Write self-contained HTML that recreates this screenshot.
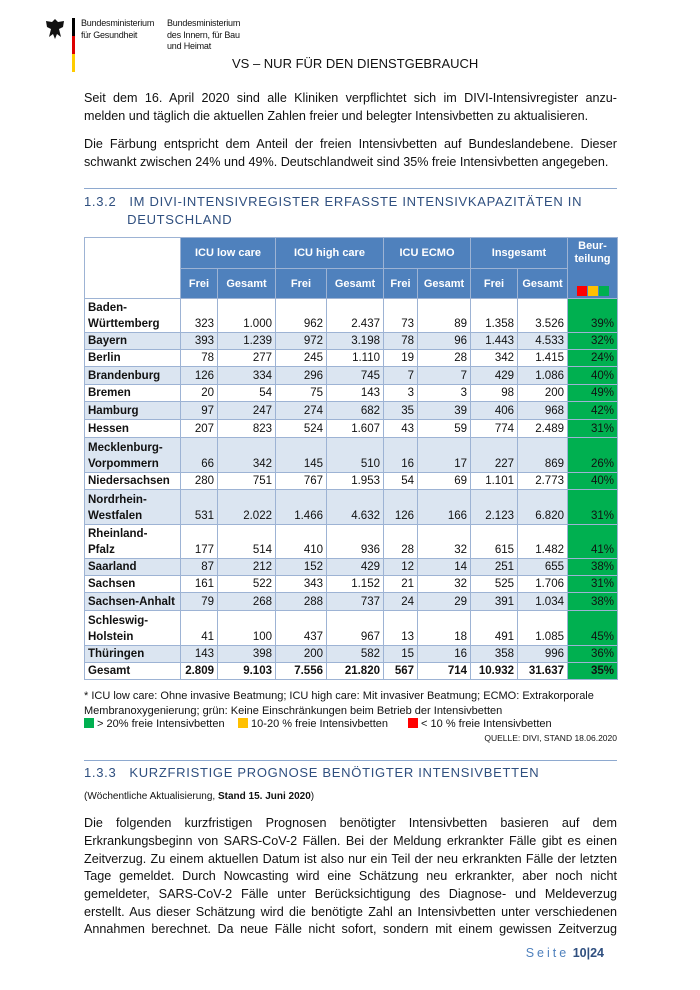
<!DOCTYPE html>
<html><head><meta charset="utf-8"><style>
*{margin:0;padding:0;box-sizing:border-box}
body{width:700px;height:990px;background:#fff;position:relative;font-family:"Liberation Sans",sans-serif;color:#111;overflow:hidden}
.a{position:absolute}
.ln{position:absolute;left:84px;width:533px;font-size:12.6px;white-space:nowrap;text-align:justify;text-align-last:justify}
.ln.l{text-align-last:left}
h2{position:absolute;left:84px;font-weight:normal;color:#2f4f7f;font-size:13px;letter-spacing:0.7px;white-space:nowrap}
table{position:absolute;left:84px;top:237px;border-collapse:collapse;font-size:11.5px;table-layout:fixed}
td{border:1px solid #9db3d4;padding:0 3px;vertical-align:bottom;text-align:right;line-height:16px}
th{background:#4f81bd;color:#fff;border:1px solid #9db3d4;font-weight:bold;font-size:11px}
td.n{text-align:left;font-weight:bold}
tr.s td{background:#dbe5f1}
td.g{background:#00b050!important}
</style></head><body>
<svg class="a" style="left:44px;top:17px" width="22" height="24" viewBox="0 0 22 24"><path d="M11 2 L14 5 L20 4 L19 10 L15 12 L17 20 L13 17 L11 22 L9 17 L5 20 L7 12 L3 10 L2 4 L8 5Z" fill="#111"/></svg>
<div class="a" style="left:72px;top:18px;width:3px;height:18px;background:#000"></div>
<div class="a" style="left:72px;top:36px;width:3px;height:18px;background:#dd0000"></div>
<div class="a" style="left:72px;top:54px;width:3px;height:18px;background:#ffcc00"></div>
<div class="a" style="left:81px;top:18px;font-size:9px;line-height:11.5px;letter-spacing:-0.2px">Bundesministerium<br>für Gesundheit</div>
<div class="a" style="left:167px;top:18px;font-size:9px;line-height:11.5px;letter-spacing:-0.2px">Bundesministerium<br>des Innern, für Bau<br>und Heimat</div>
<div class="a" style="left:232px;top:56px;font-size:13px">VS – NUR FÜR DEN DIENSTGEBRAUCH</div>
<div class="ln" style="top:91px">Seit dem 16. April 2020 sind alle Kliniken verpflichtet sich im DIVI-Intensivregister anzu-</div>
<div class="ln l" style="top:109px">melden und täglich die aktuellen Zahlen freier und belegter Intensivbetten zu aktualisieren.</div>
<div class="ln" style="top:137px">Die Färbung entspricht dem Anteil der freien Intensivbetten auf Bundeslandebene. Dieser</div>
<div class="ln l" style="top:155px">schwankt zwischen 24% und 49%. Deutschlandweit sind 35% freie Intensivbetten angegeben.</div>
<div class="a" style="left:84px;top:188px;width:533px;height:1px;background:#8ea9cf"></div>
<h2 style="top:193px;line-height:18px">1.3.2&nbsp;&nbsp;&nbsp;IM DIVI-INTENSIVREGISTER ERFASSTE INTENSIVKAPAZITÄTEN IN<br>&nbsp;&nbsp;&nbsp;&nbsp;&nbsp;&nbsp;&nbsp;&nbsp;&nbsp;&nbsp;DEUTSCHLAND</h2>
<table>
<colgroup><col style="width:96px"><col style="width:37px"><col style="width:58px"><col style="width:51px"><col style="width:57px"><col style="width:34px"><col style="width:53px"><col style="width:47px"><col style="width:50px"><col style="width:50px"></colgroup>
<tr style="height:31px"><td rowspan="2" style="background:#fff"></td><th colspan="2">ICU low care</th><th colspan="2">ICU high care</th><th colspan="2">ICU ECMO</th><th colspan="2">Insgesamt</th><th rowspan="2" style="vertical-align:top;padding-top:2px;line-height:13px">Beur-<br>teilung<div style="margin-top:20px;display:flex;gap:1px;justify-content:center"><span style="width:10px;height:10px;background:#f00"></span><span style="width:10px;height:10px;background:#ffc000"></span><span style="width:10px;height:10px;background:#00b050"></span></div></th></tr>
<tr style="height:30px"><th>Frei</th><th>Gesamt</th><th>Frei</th><th>Gesamt</th><th>Frei</th><th>Gesamt</th><th>Frei</th><th>Gesamt</th></tr>
<tr style="height:34px"><td class="n">Baden-<br>Württemberg</td><td>323</td><td>1.000</td><td>962</td><td>2.437</td><td>73</td><td>89</td><td>1.358</td><td>3.526</td><td class="g">39%</td></tr>
<tr class="s" style="height:17px"><td class="n">Bayern</td><td>393</td><td>1.239</td><td>972</td><td>3.198</td><td>78</td><td>96</td><td>1.443</td><td>4.533</td><td class="g">32%</td></tr>
<tr style="height:17px"><td class="n">Berlin</td><td>78</td><td>277</td><td>245</td><td>1.110</td><td>19</td><td>28</td><td>342</td><td>1.415</td><td class="g">24%</td></tr>
<tr class="s" style="height:18px"><td class="n">Brandenburg</td><td>126</td><td>334</td><td>296</td><td>745</td><td>7</td><td>7</td><td>429</td><td>1.086</td><td class="g">40%</td></tr>
<tr style="height:17px"><td class="n">Bremen</td><td>20</td><td>54</td><td>75</td><td>143</td><td>3</td><td>3</td><td>98</td><td>200</td><td class="g">49%</td></tr>
<tr class="s" style="height:18px"><td class="n">Hamburg</td><td>97</td><td>247</td><td>274</td><td>682</td><td>35</td><td>39</td><td>406</td><td>968</td><td class="g">42%</td></tr>
<tr style="height:18px"><td class="n">Hessen</td><td>207</td><td>823</td><td>524</td><td>1.607</td><td>43</td><td>59</td><td>774</td><td>2.489</td><td class="g">31%</td></tr>
<tr class="s" style="height:35px"><td class="n">Mecklenburg-<br>Vorpommern</td><td>66</td><td>342</td><td>145</td><td>510</td><td>16</td><td>17</td><td>227</td><td>869</td><td class="g">26%</td></tr>
<tr style="height:17px"><td class="n">Niedersachsen</td><td>280</td><td>751</td><td>767</td><td>1.953</td><td>54</td><td>69</td><td>1.101</td><td>2.773</td><td class="g">40%</td></tr>
<tr class="s" style="height:35px"><td class="n">Nordrhein-<br>Westfalen</td><td>531</td><td>2.022</td><td>1.466</td><td>4.632</td><td>126</td><td>166</td><td>2.123</td><td>6.820</td><td class="g">31%</td></tr>
<tr style="height:34px"><td class="n">Rheinland-<br>Pfalz</td><td>177</td><td>514</td><td>410</td><td>936</td><td>28</td><td>32</td><td>615</td><td>1.482</td><td class="g">41%</td></tr>
<tr class="s" style="height:17px"><td class="n">Saarland</td><td>87</td><td>212</td><td>152</td><td>429</td><td>12</td><td>14</td><td>251</td><td>655</td><td class="g">38%</td></tr>
<tr style="height:17px"><td class="n">Sachsen</td><td>161</td><td>522</td><td>343</td><td>1.152</td><td>21</td><td>32</td><td>525</td><td>1.706</td><td class="g">31%</td></tr>
<tr class="s" style="height:18px"><td class="n">Sachsen-Anhalt</td><td>79</td><td>268</td><td>288</td><td>737</td><td>24</td><td>29</td><td>391</td><td>1.034</td><td class="g">38%</td></tr>
<tr style="height:35px"><td class="n">Schleswig-<br>Holstein</td><td>41</td><td>100</td><td>437</td><td>967</td><td>13</td><td>18</td><td>491</td><td>1.085</td><td class="g">45%</td></tr>
<tr class="s" style="height:17px"><td class="n">Thüringen</td><td>143</td><td>398</td><td>200</td><td>582</td><td>15</td><td>16</td><td>358</td><td>996</td><td class="g">36%</td></tr>
<tr style="height:17px;font-weight:bold"><td class="n">Gesamt</td><td>2.809</td><td>9.103</td><td>7.556</td><td>21.820</td><td>567</td><td>714</td><td>10.932</td><td>31.637</td><td class="g">35%</td></tr>
</table>
<div class="a" style="left:84px;top:689px;font-size:11px;line-height:15px;white-space:nowrap">* ICU low care: Ohne invasive Beatmung; ICU high care: Mit invasiver Beatmung; ECMO: Extrakorporale<br>Membranoxygenierung; grün: Keine Einschränkungen beim Betrieb der Intensivbetten</div>
<div class="a" style="left:84px;top:718px;font-size:11px;white-space:nowrap"><span style="display:inline-block;width:10px;height:10px;background:#00b050;vertical-align:-1px"></span> &gt; 20% freie Intensivbetten</div>
<div class="a" style="left:238px;top:718px;font-size:11px;white-space:nowrap"><span style="display:inline-block;width:10px;height:10px;background:#ffc000;vertical-align:-1px"></span> 10-20 % freie Intensivbetten</div>
<div class="a" style="left:408px;top:718px;font-size:11px;white-space:nowrap"><span style="display:inline-block;width:10px;height:10px;background:#f00;vertical-align:-1px"></span> &lt; 10 % freie Intensivbetten</div>
<div class="a" style="left:417px;top:733px;width:200px;text-align:right;font-size:8.5px">QUELLE: DIVI, STAND 18.06.2020</div>
<div class="a" style="left:84px;top:760px;width:533px;height:1px;background:#8ea9cf"></div>
<h2 style="top:765px">1.3.3&nbsp;&nbsp;&nbsp;KURZFRISTIGE PROGNOSE BENÖTIGTER INTENSIVBETTEN</h2>
<div class="a" style="left:84px;top:791px;font-size:10px">(Wöchentliche Aktualisierung, <b>Stand 15. Juni 2020</b>)</div>
<div class="ln" style="top:816px">Die folgenden kurzfristigen Prognosen benötigter Intensivbetten basieren auf dem</div>
<div class="ln" style="top:834px">Erkrankungsbeginn von SARS-CoV-2 Fällen.  Bei der Meldung erkrankter Fälle gibt es einen</div>
<div class="ln" style="top:852px">Zeitverzug. Zu einem aktuellen Datum ist also nur ein Teil der neu erkrankten Fälle der letzten</div>
<div class="ln" style="top:869px">Tage gemeldet. Durch Nowcasting wird eine Schätzung neu erkrankter, aber noch nicht</div>
<div class="ln" style="top:887px">gemeldeter, SARS-CoV-2 Fälle unter Berücksichtigung des Diagnose- und Meldeverzug</div>
<div class="ln" style="top:905px">erstellt. Aus dieser Schätzung wird die benötigte Zahl an Intensivbetten unter verschiedenen</div>
<div class="ln" style="top:922px">Annahmen berechnet. Da neue Fälle nicht sofort, sondern mit einem gewissen Zeitverzug</div>
<div class="a" style="left:500px;top:946px;width:104px;text-align:right;font-size:12.5px"><span style="color:#4f81bd;letter-spacing:3px">Seite</span> <b style="color:#2f4f7f">10|24</b></div>
</body></html>
